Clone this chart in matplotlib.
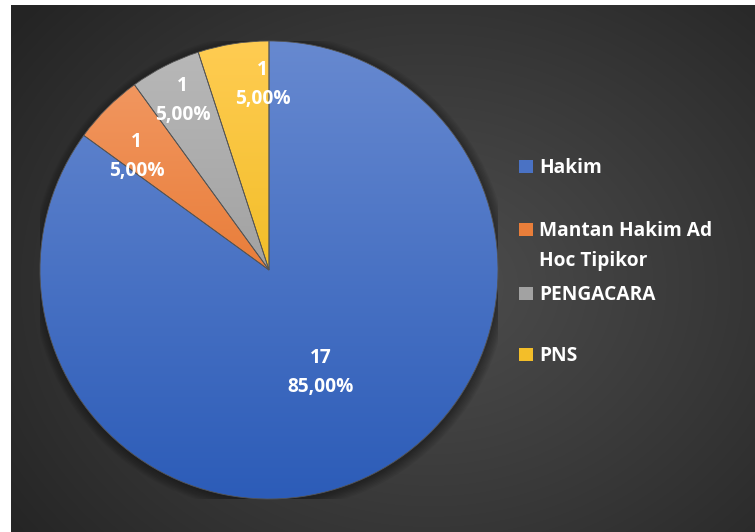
import numpy as np
import matplotlib.pyplot as plt
from matplotlib.colors import LinearSegmentedColormap, to_rgb
from matplotlib.patches import Rectangle

# data
categories = ["Hakim", "Mantan Hakim Ad\nHoc Tipikor", "PENGACARA", "PNS"]
counts = [17, 1, 1, 1]
percent_labels = ["85,00%", "5,00%", "5,00%", "5,00%"]

# gradient colours per slice (top of pie -> bottom of pie)
top_colors = ["#6789d0", "#f39c68", "#b9b9b9", "#ffcc52"]
bottom_colors = ["#2c5cb8", "#df5f0c", "#8a8a8a", "#e6b000"]
# where each data label sits: fraction of the radius, and angle nudge (deg)
label_radius = [0.50, 0.76, 0.83, 0.81]
label_nudge = [0, 4.5, 0, -7]

W, H = 755, 532
plt.rcParams['font.family'] = ['Open Sans', 'DejaVu Sans']
FS = 13.8
LINE_GAP = 30  # px between the lines of a two-line legend entry

fig = plt.figure(figsize=(W / 100, H / 100), dpi=100, facecolor="white")

# dark chart area with a soft radial glow
bg = fig.add_axes([11 / W, 0, (W - 11) / W, (H - 5) / H])
bg.set_axis_off()
yy, xx = np.mgrid[0:527, 0:744]
d = np.hypot((xx - 420) / 520.0, (yy - 280) / 420.0)
shade = np.clip(d, 0, 1)
c_in, c_out = 0.30, 0.145
img = c_in + (c_out - c_in) * shade ** 1.1
bg.imshow(np.dstack([img, img, img]), aspect="auto", interpolation="bilinear")

# pie axes, placed so the pie spans the same pixels as the reference
ax = fig.add_axes([40 / W, (H - 499) / H, 458 / W, 458 / H])

# faint shadow behind the pie
for k in range(8):
    ax.add_patch(plt.Circle((0.005, -0.01), 1.0 + 0.006 * k, color="black",
                            alpha=0.05, lw=0, zorder=0))

wedges, _ = ax.pie(counts, startangle=90, counterclock=False, radius=1,
                   wedgeprops=dict(linewidth=0.6, edgecolor="#555555"),
                   frame=True)

grad = np.linspace(0, 1, 256).reshape(-1, 1)
for w, ct, cb in zip(wedges, top_colors, bottom_colors):
    cmap = LinearSegmentedColormap.from_list("g", [ct, cb])
    im = ax.imshow(grad, cmap=cmap, extent=(-1, 1, -1, 1), aspect="auto",
                   origin="upper", zorder=1)
    im.set_clip_path(w)
    w.set_zorder(2)
    w.set_facecolor("none")

ax.set_xlim(-1, 1)
ax.set_ylim(-1, 1)
ax.set_aspect("auto")
ax.set_axis_off()

# data labels
for w, n, p, rf, nd in zip(wedges, counts, percent_labels, label_radius, label_nudge):
    ang = np.deg2rad((w.theta1 + w.theta2) / 2 + nd)
    ax.text(rf * np.cos(ang), rf * np.sin(ang), f"{n}\n{p}", ha="center",
            va="center", color="white", fontsize=FS, fontweight="bold",
            linespacing=1.6, zorder=5)

# legend drawn by hand to copy the uneven spacing of the original
legend_y = [166, 229, 293, 354]
for lab, ct, cb, ly in zip(categories, top_colors, bottom_colors, legend_y):
    mid = tuple((np.array(to_rgb(ct)) + np.array(to_rgb(cb))) / 2)
    fig.patches.append(Rectangle((519 / W, (H - ly - 6.5) / H), 14 / W, 13 / H,
                                 transform=fig.transFigure, facecolor=mid,
                                 edgecolor="none"))
    for i, line in enumerate(lab.split("\n")):
        fig.text(539 / W, (H - ly - 7 - i * LINE_GAP) / H, line, ha="left",
                 va="baseline", color="white", fontsize=FS, fontweight="bold")

fig.savefig("out.png", dpi=100, facecolor="white")
